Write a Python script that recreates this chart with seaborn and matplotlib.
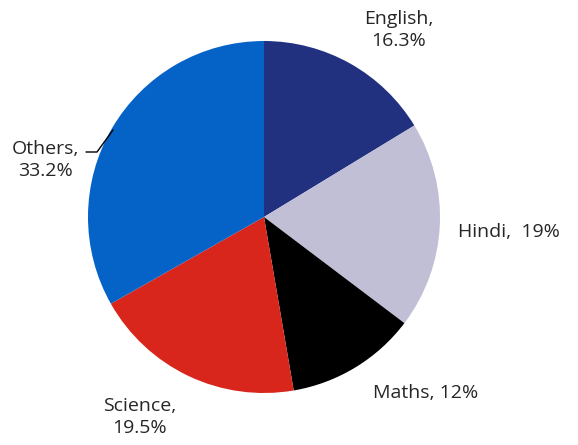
import matplotlib
matplotlib.use("Agg")
import matplotlib.pyplot as plt
import seaborn as sns

subjects = ["English", "Hindi", "Maths", "Science", "Others"]
shares = [16.3, 19.0, 12.0, 19.5, 33.2]
label_texts = ["English,\n16.3%", "Hindi,  19%", "Maths, 12%", "Science,\n19.5%", "Others,\n33.2%"]
colors = ["#22317f", "#c0bfd6", "#000000", "#d9261c", "#0563c8"]

sns.set_theme(style="white")
plt.rcParams["font.family"] = ["Open Sans", "DejaVu Sans"]

W, H = 578, 445
cx, cy, r = 264, 217, 176
fig = plt.figure(figsize=(W / 100, H / 100), dpi=100)
ax = fig.add_axes([(cx - r) / W, (H - cy - r) / H, 2 * r / W, 2 * r / H])

ax.pie(shares, colors=colors, startangle=90, counterclock=False,
       radius=1.0, wedgeprops=dict(linewidth=0))
ax.set_xlim(-1, 1)
ax.set_ylim(-1, 1)
ax.set_aspect("equal")
ax.axis("off")

def to_data(px, py):
    return (px - cx) / r, (cy - py) / r

label_pos = [(399, 30), (509, 232), (426, 393), (140, 417), (45, 160)]
for txt, (px, py) in zip(label_texts, label_pos):
    x, y = to_data(px, py)
    ax.text(x, y, txt, ha="center", va="center", fontsize=14,
            fontweight="normal", color="#262626", linespacing=1.25,
            clip_on=False)

# leader line for the Others label
pts = [to_data(86, 152), to_data(97, 152), to_data(113, 130)]
ax.plot([p[0] for p in pts], [p[1] for p in pts], color="black",
        linewidth=1.0, clip_on=False)

fig.savefig("out.png", dpi=100)
